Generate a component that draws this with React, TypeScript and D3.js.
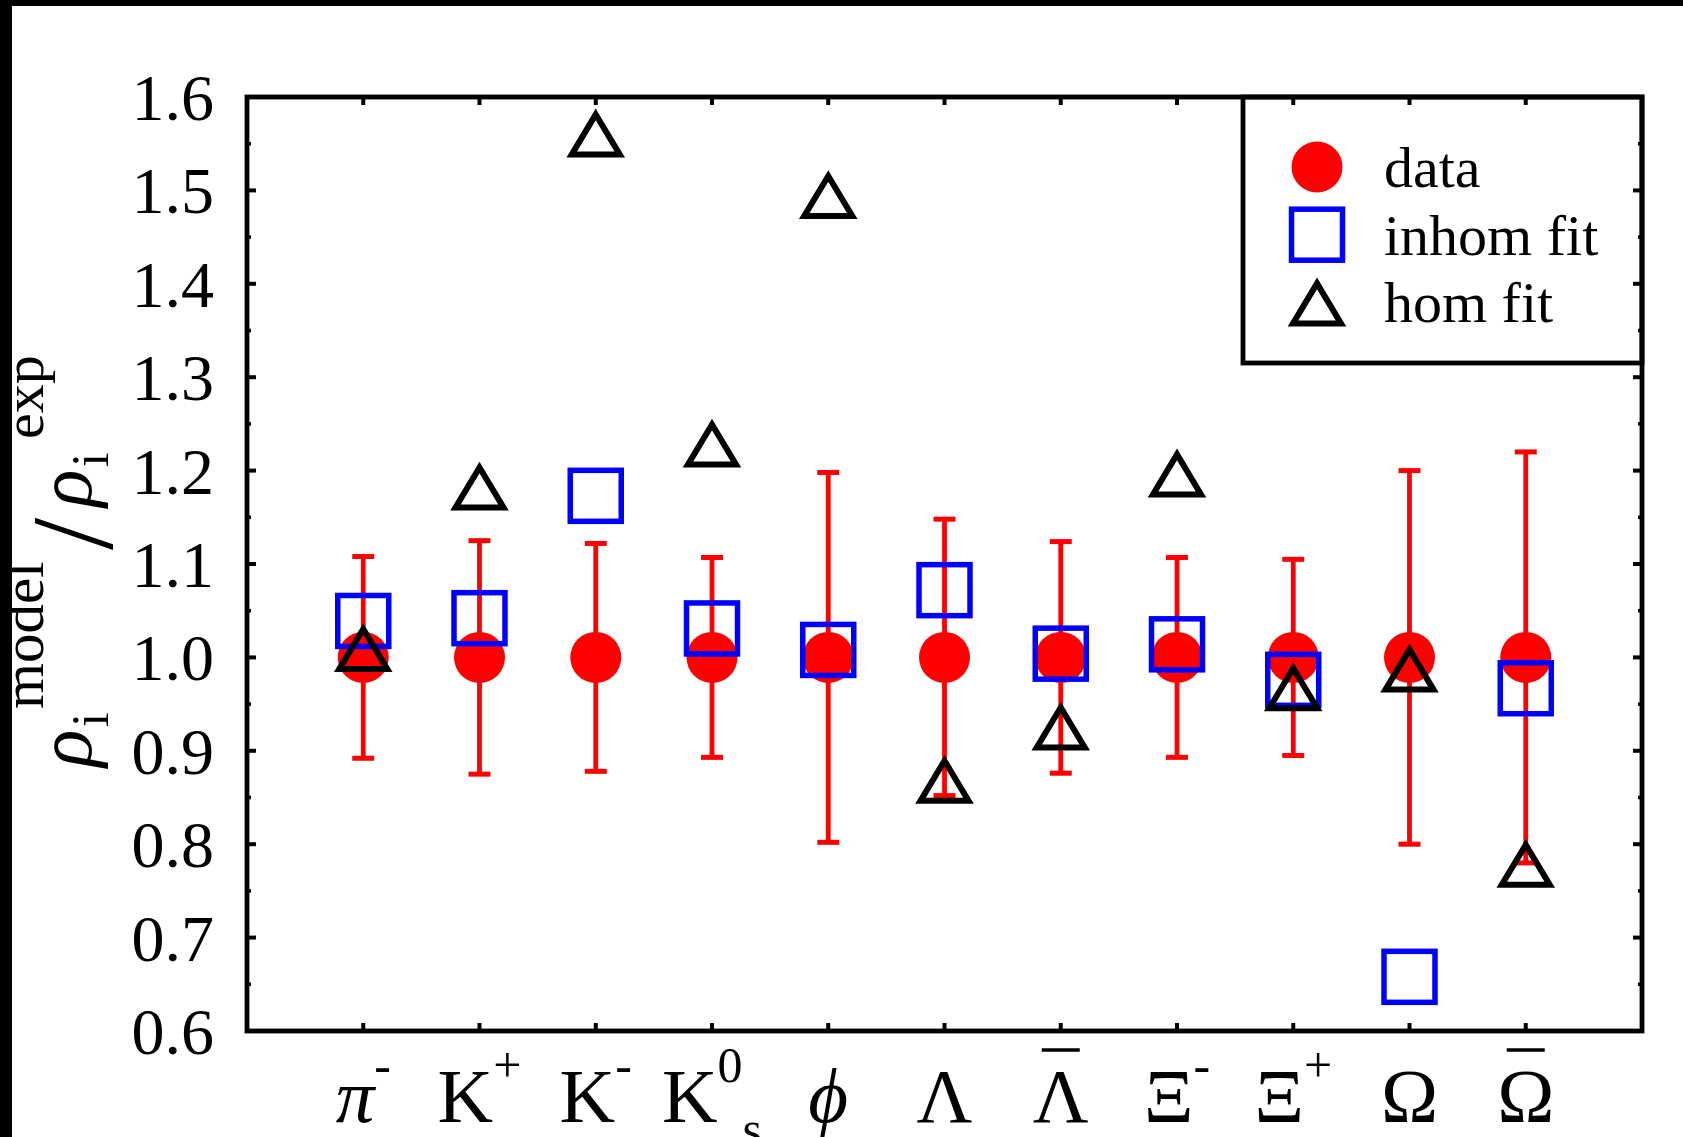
import React from 'react';
import * as d3 from 'd3';

// Particle species along the x axis
const particles = ['pi-', 'K+', 'K-', 'K0s', 'phi', 'Lambda', 'antiLambda', 'Xi-', 'Xi+', 'Omega', 'antiOmega'];
const labelBase = ['π', 'K', 'K', 'K', 'ϕ', 'Λ', 'Λ', 'Ξ', 'Ξ', 'Ω', 'Ω'];
const labelItalic = [true, false, false, false, true, false, false, false, false, false, false];
const labelSup = ['-', '+', '-', '0', '', '', '', '-', '+', '', ''];
const labelSub = ['', '', '', 's', '', '', '', '', '', '', ''];
const labelBar = [false, false, false, false, false, false, true, false, false, false, true];

// Measured ratios (normalised to 1) with their uncertainties
const dataValues = [1, 1, 1, 1, 1, 1, 1, 1, 1, 1, 1];
const dataErrors = [0.108, 0.125, 0.122, 0.107, 0.198, 0.148, 0.124, 0.107, 0.105, 0.2, 0.22];

// Model / experiment ratios for the two fits
const inhomFit = [1.039, 1.042, 1.173, 1.031, 1.008, 1.072, 1.004, 1.014, 0.976, 0.658, 0.967];
const homFit = [1.01, 1.183, 1.561, 1.229, 1.495, 0.869, 0.926, 1.197, 0.968, 0.988, 0.779];

const yTicks = [0.6, 0.7, 0.8, 0.9, 1.0, 1.1, 1.2, 1.3, 1.4, 1.5, 1.6];
const yMinorTicks = [0.65, 0.75, 0.85, 0.95, 1.05, 1.15, 1.25, 1.35, 1.45, 1.55];

const legendItems = ['data', 'inhom fit', 'hom fit'];

const W = 1683;
const H = 1137;
const plot = { left: 247, right: 1642, top: 97, bottom: 1031 };
const FONT = '"Liberation Serif", "DejaVu Serif", serif';

const RED = '#ff0000';
const BLUE = '#0000ff';

const x = d3.scaleLinear().domain([-1, particles.length]).range([plot.left, plot.right]);
const y = d3.scaleLinear().domain([0.6, 1.6]).range([plot.bottom, plot.top]);

const SQ = 51;
const triPath = 'M0,-19L24,21L-24,21Z';

function Circle({ cx, cy }: { cx: number; cy: number }) {
  return <circle cx={cx} cy={cy} r={25.5} fill={RED} />;
}
function Square({ cx, cy }: { cx: number; cy: number }) {
  return (
    <rect x={cx - SQ / 2} y={cy - SQ / 2} width={SQ} height={SQ} fill="none" stroke={BLUE} strokeWidth={5.5} />
  );
}
function Triangle({ cx, cy }: { cx: number; cy: number }) {
  return (
    <path d={triPath} transform={`translate(${cx},${cy})`} fill="none" stroke="#000" strokeWidth={6} strokeLinejoin="miter" />
  );
}

export default function App() {
  const idx = d3.range(particles.length);
  const capW = 11;
  return (
    <svg width={W} height={H} style={{ position: 'absolute', left: 0, top: 0, display: 'block' }} fontFamily={FONT}>
      <rect x={0} y={0} width={W} height={H} fill="#000" />
      <rect x={12} y={6} width={W - 12} height={H - 6} fill="#fff" />

      {/* error bars and data points */}
      {idx.map((i) => {
        const cx = x(i);
        const lo = y(dataValues[i] - dataErrors[i]);
        const hi = y(dataValues[i] + dataErrors[i]);
        return (
          <g key={`e${i}`} stroke={RED} strokeWidth={4.8}>
            <line x1={cx} x2={cx} y1={lo} y2={hi} />
            <line x1={cx - capW} x2={cx + capW} y1={lo} y2={lo} strokeWidth={5} />
            <line x1={cx - capW} x2={cx + capW} y1={hi} y2={hi} strokeWidth={5} />
          </g>
        );
      })}
      {idx.map((i) => (
        <Circle key={`c${i}`} cx={x(i)} cy={y(dataValues[i])} />
      ))}
      {idx.map((i) => (
        <Square key={`s${i}`} cx={x(i)} cy={y(inhomFit[i])} />
      ))}
      {idx.map((i) => (
        <Triangle key={`t${i}`} cx={x(i)} cy={y(homFit[i])} />
      ))}

      {/* legend */}
      <rect x={1243} y={plot.top} width={plot.right - 1243} height={363 - plot.top} fill="#fff" stroke="#000" strokeWidth={4.8} />
      {legendItems.map((name, k) => {
        const cy = 167 + k * 67.7;
        const cx = 1317;
        return (
          <g key={name}>
            {k === 0 && <Circle cx={cx} cy={cy} />}
            {k === 1 && <Square cx={cx} cy={cy} />}
            {k === 2 && <Triangle cx={cx} cy={cy} />}
            <text x={1384} y={cy + 20} fontSize={58} fill="#000">{name}</text>
          </g>
        );
      })}

      {/* frame */}
      <rect x={plot.left} y={plot.top} width={plot.right - plot.left} height={plot.bottom - plot.top} fill="none" stroke="#000" strokeWidth={4.8} />

      {/* y ticks on left and right */}
      {yTicks.map((t) => (
        <g key={`yt${t}`} stroke="#000" strokeWidth={4}>
          <line x1={plot.left} x2={plot.left + 9} y1={y(t)} y2={y(t)} />
          <line x1={plot.right} x2={plot.right - 9} y1={y(t)} y2={y(t)} />
        </g>
      ))}
      {yMinorTicks.map((t) => (
        <g key={`ym${t}`} stroke="#000" strokeWidth={3.5}>
          <line x1={plot.left} x2={plot.left + 4} y1={y(t)} y2={y(t)} />
          <line x1={plot.right} x2={plot.right - 4} y1={y(t)} y2={y(t)} />
        </g>
      ))}
      {/* x ticks on bottom and top */}
      {idx.map((i) => (
        <g key={`xt${i}`} stroke="#000" strokeWidth={4}>
          <line x1={x(i)} x2={x(i)} y1={plot.bottom} y2={plot.bottom - 8} />
          <line x1={x(i)} x2={x(i)} y1={plot.top} y2={plot.top + 8} />
        </g>
      ))}

      {/* y tick labels */}
      {yTicks.map((t) => (
        <text key={`yl${t}`} x={214} y={y(t) + 23} fontSize={66} textAnchor="end" fill="#000">
          {t.toFixed(1)}
        </text>
      ))}

      {/* x tick labels */}
      {idx.map((i) => {
        const supShift = -40;
        const subShift = 24;
        return (
          <g key={`xl${i}`}>
            <text x={x(i)} y={1122} fontSize={77} textAnchor="middle" fill="#000">
              <tspan fontStyle={labelItalic[i] ? 'italic' : 'normal'}>{labelBase[i]}</tspan>
              {labelSup[i] && (
                <tspan fontSize={50} dy={supShift}>{labelSup[i]}</tspan>
              )}
              {labelSub[i] && (
                <tspan fontSize={50} dy={subShift - supShift}>{labelSub[i]}</tspan>
              )}
            </text>
            {labelBar[i] && (
              <line x1={x(i) - 19} x2={x(i) + 19} y1={1050} y2={1050} stroke="#000" strokeWidth={3.5} />
            )}
          </g>
        );
      })}

      {/* y axis title: rho_i^model / rho_i^exp */}
      <g transform="translate(91,767) rotate(-90)" fill="#000">
        <text x={0} y={0} fontSize={78} fontStyle="italic">ρ</text>
        <text x={40} y={17} fontSize={52}>i</text>
        <text x={58} y={-48} fontSize={59}>model</text>
        <text x={217} y={21} fontSize={116}>/</text>
        <text x={260} y={0} fontSize={78} fontStyle="italic">ρ</text>
        <text x={300} y={17} fontSize={52}>i</text>
        <text x={328} y={-48} fontSize={58}>exp</text>
      </g>
    </svg>
  );
}
